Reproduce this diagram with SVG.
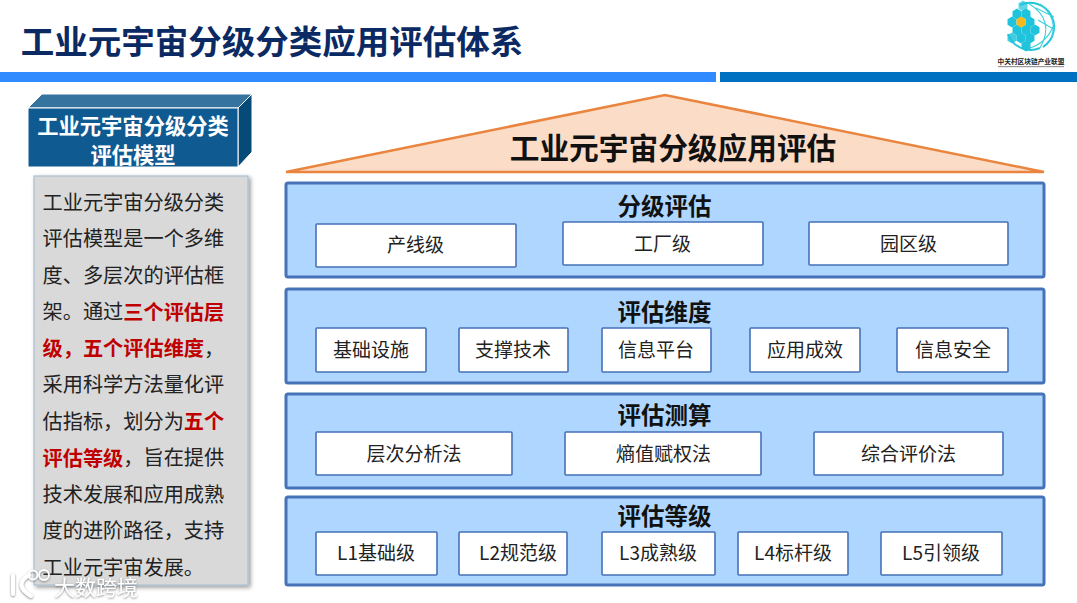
<svg xmlns="http://www.w3.org/2000/svg" width="1078" height="603" viewBox="0 0 1078 603">
<style>
text{font-family:"Noto Sans CJK SC","Liberation Sans",sans-serif;text-anchor:middle;dominant-baseline:central}
.panel{fill:#aed6ff;stroke:#4672b8;stroke-width:3}
.box{fill:#fff;stroke:#4672b8;stroke-width:1.6}
.pt{font-size:23.5px;font-weight:700;fill:#111}
.bt{font-size:19px;fill:#222}
.side{font-size:20.2px;fill:#222;text-anchor:start}
.red{fill:#c00000;font-weight:700}
</style>
<defs>
<filter id="sh" x="-5%" y="-5%" width="112%" height="110%"><feDropShadow dx="2" dy="2" stdDeviation="2" flood-color="#000" flood-opacity=".4"/></filter>
<filter id="ws" x="-10%" y="-20%" width="120%" height="150%"><feDropShadow dx="0" dy="1" stdDeviation="1" flood-color="#666" flood-opacity=".8"/></filter>
<linearGradient id="glb" gradientUnits="userSpaceOnUse" x1="1020" y1="4" x2="1030" y2="50"><stop offset="0" stop-color="#1fc4dc"/><stop offset=".45" stop-color="#1f7fe4"/><stop offset="1" stop-color="#1440dc"/></linearGradient>
<polygon id="hx" points="0,-5.4 4.5,-2.7 4.5,2.7 0,5.4 -4.5,2.7 -4.5,-2.7"/>
</defs>
<rect width="1078" height="603" fill="#fff"/>
<rect x="1077" y="0" width="1" height="603" fill="#d8d8d8"/>
<g id="header">
<text x="272" y="39" font-size="33.5" font-weight="700" fill="#0b2a63">工业元宇宙分级分类应用评估体系</text>
<rect x="0" y="72" width="716" height="10" fill="#2f8bff"/>
<rect x="720" y="72" width="357" height="10" fill="#0070c0"/>
</g>
<g id="logo">
<path d="M1020 5A24 24 0 0 1 1043 47M1008 34A24 24 0 0 0 1040 48" fill="none" stroke="#22c6da" stroke-width="2"/>
<path d="M1028 3Q1056 20 1040 48M1040 4Q1058 18 1052 38M1030 48Q1048 42 1054 24M1036 8L1054 17M1038 20L1055 30" fill="none" stroke="#3fd0e0" stroke-width="1.1"/>
<g fill="url(#glb)">
<use href="#hx" x="1017" y="14"/><use href="#hx" x="1026" y="14"/><use href="#hx" x="1023" y="6" opacity=".7"/>
<use href="#hx" x="1012" y="22"/><use href="#hx" x="1030" y="22"/>
<use href="#hx" x="1017" y="30"/><use href="#hx" x="1026" y="30"/><use href="#hx" x="1035" y="30"/>
<use href="#hx" x="1012" y="38" opacity=".85"/><use href="#hx" x="1021" y="38"/><use href="#hx" x="1030" y="38"/>
<use href="#hx" x="1026" y="46"/>
</g>
<use href="#hx" x="1021" y="22" fill="#f5b91e"/>
<text x="1031" y="61" font-size="6.7" font-weight="700" fill="#222">中关村区块链产业联盟</text>
<rect x="998" y="66" width="66" height="1.2" fill="#999"/>
</g>
<g id="model-title">
<polygon points="28,108 42,94 252,94 238,108" fill="#37739f" stroke="#fff"/>
<polygon points="238,108 252,94 252,152 238,167" fill="#064a78" stroke="#fff"/>
<rect x="28" y="108" width="210" height="59" fill="#0f5a91" stroke="#fff"/>
<text x="133" y="124" font-size="21.3" font-weight="700" fill="#fff">工业元宇宙分级分类</text>
<text x="133" y="153.5" font-size="21.3" font-weight="700" fill="#fff">评估模型</text>
</g>
<g id="model-text">
<rect x="34" y="176" width="214" height="409" fill="#d9d9d9" stroke="#a9c0d2" stroke-width="1.2" filter="url(#sh)"/>
<text class="side" x="42.5" y="201">工业元宇宙分级分类</text>
<text class="side" x="42.5" y="237.5">评估模型是一个多维</text>
<text class="side" x="42.5" y="274">度、多层次的评估框</text>
<text class="side" x="42.5" y="310.5">架。通过<tspan class="red">三个评估层</tspan></text>
<text class="side" x="42.5" y="347"><tspan class="red">级，五个评估维度</tspan>，</text>
<text class="side" x="42.5" y="383.5">采用科学方法量化评</text>
<text class="side" x="42.5" y="420">估指标，划分为<tspan class="red">五个</tspan></text>
<text class="side" x="42.5" y="456.5"><tspan class="red">评估等级</tspan>，旨在提供</text>
<text class="side" x="42.5" y="493">技术发展和应用成熟</text>
<text class="side" x="42.5" y="529.5">度的进阶路径，支持</text>
<text class="side" x="42.5" y="566">工业元宇宙发展。</text>
</g>
<g id="roof">
<polygon points="286,172 665,95 1044,172" fill="#fbdcc6" stroke="#e9853f" stroke-width="2.5"/>
<text x="673" y="146" font-size="29.7" font-weight="700" fill="#111">工业元宇宙分级应用评估</text>
</g>
<g id="grading">
<rect class="panel" x="286" y="183" width="758" height="94" rx="2"/>
<text class="pt" x="664.5" y="204.5">分级评估</text>
<rect class="box" x="316" y="224" width="200" height="43" rx="1"/><text class="bt" x="415.5" y="243.5">产线级</text>
<rect class="box" x="563" y="222" width="200" height="43" rx="1"/><text class="bt" x="662.5" y="242.5">工厂级</text>
<rect class="box" x="809" y="222" width="199" height="43" rx="1"/><text class="bt" x="908.5" y="242.5">园区级</text>
</g>
<g id="dimensions">
<rect class="panel" x="286" y="289" width="758" height="94" rx="2"/>
<text class="pt" x="664.5" y="310.5">评估维度</text>
<rect class="box" x="316" y="328" width="110" height="44" rx="1"/><text class="bt" x="371" y="348.5">基础设施</text>
<rect class="box" x="459" y="328" width="109" height="44" rx="1"/><text class="bt" x="513" y="348.5">支撑技术</text>
<rect class="box" x="602" y="328" width="109" height="44" rx="1"/><text class="bt" x="656" y="348.5">信息平台</text>
<rect class="box" x="750" y="328" width="110" height="44" rx="1"/><text class="bt" x="805" y="348.5">应用成效</text>
<rect class="box" x="897" y="328" width="111" height="44" rx="1"/><text class="bt" x="953" y="348.5">信息安全</text>
</g>
<g id="measure">
<rect class="panel" x="286" y="394" width="758" height="94" rx="2"/>
<text class="pt" x="664.5" y="413.5">评估测算</text>
<rect class="box" x="316" y="432" width="196" height="43" rx="1"/><text class="bt" x="414" y="452">层次分析法</text>
<rect class="box" x="565" y="432" width="196" height="43" rx="1"/><text class="bt" x="663.5" y="452">熵值赋权法</text>
<rect class="box" x="814" y="432" width="189" height="43" rx="1"/><text class="bt" x="908.5" y="452">综合评价法</text>
</g>
<g id="levels">
<rect class="panel" x="286" y="497" width="758" height="88" rx="2"/>
<text class="pt" x="664.5" y="514.5">评估等级</text>
<rect class="box" x="316" y="532" width="121" height="43" rx="1"/><text class="bt" x="376" y="551.5">L1基础级</text>
<rect class="box" x="459" y="532" width="108" height="43" rx="1"/><text class="bt" x="518" y="551.5">L2规范级</text>
<rect class="box" x="602" y="532" width="113" height="43" rx="1"/><text class="bt" x="658" y="551.5">L3成熟级</text>
<rect class="box" x="738" y="532" width="110" height="43" rx="1"/><text class="bt" x="793" y="551.5">L4标杆级</text>
<rect class="box" x="881" y="532" width="121" height="43" rx="1"/><text class="bt" x="941" y="551.5">L5引领级</text>
</g>
<g id="watermark" filter="url(#ws)">
<path d="M13 575V594M29 575Q13 585 31 596" fill="none" stroke="#fff" stroke-width="4" stroke-linecap="round"/>
<circle cx="33" cy="575" r="4.5" fill="none" stroke="#fff" stroke-width="1.8"/>
<circle cx="44" cy="575" r="5" fill="none" stroke="#fff" stroke-width="1.8"/>
<text x="96" y="586" font-size="21" fill="#fff">大数跨境</text>
</g>
</svg>
